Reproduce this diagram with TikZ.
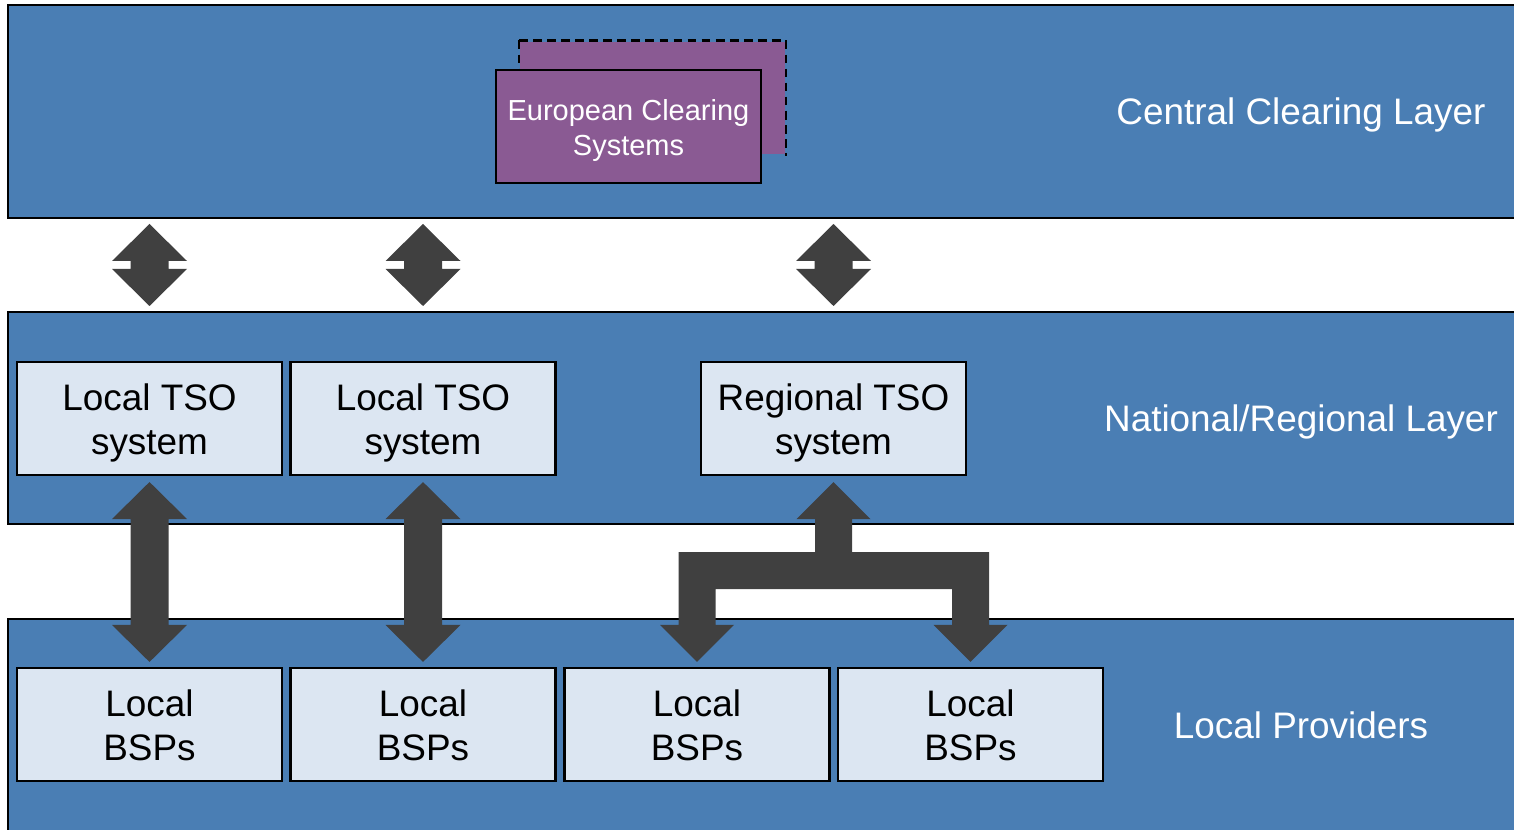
\documentclass[tikz,border=0pt]{standalone}
\usepackage{fontspec}
\setmainfont{Liberation Sans}
\usetikzlibrary{calc}
\definecolor{bandblue}{HTML}{4A7EB4}
\definecolor{boxfill}{HTML}{DCE6F2}
\definecolor{euro}{HTML}{8A5A93}
\definecolor{arrowgray}{HTML}{404040}
\tikzset{
  band/.style={fill=bandblue,draw=black,line width=1.4pt},
  sysbox/.style={fill=boxfill,draw=black,line width=1.2pt,minimum width=5.3cm,minimum height=2.26cm,
    align=center,inner sep=0pt,text height=1.6cm,text depth=0.14cm,font=\fontsize{21}{25.5}\selectfont},
  eurobox/.style={fill=euro,draw=black,line width=1.2pt,minimum width=5.3cm,minimum height=2.26cm,
    align=center,inner sep=0pt,text height=1.3cm,text depth=0.14cm,text=white,font=\fontsize{16.5}{19.8}\selectfont},
  layer/.style={text=white,text height=0.66cm,text depth=0.14cm,font=\fontsize{21}{25.5}\selectfont},
  arrowfill/.style={fill=arrowgray}
}
% fat double arrow from top apex #1 to bottom apex #2
\newcommand{\dblarrow}[2]{%
  \fill[arrowfill] (#1) -- ++(37.5,37) -- ++(-18.5,0) -- ($(#2)+(19,-37)$) -- ++(18.5,0) -- (#2)
    -- ++(-37.5,-37) -- ++(18.5,0) -- ($(#1)+(-19,37)$) -- ++(-18.5,0) -- cycle;}
\begin{document}
\begin{tikzpicture}[x=0.02cm,y=-0.02cm]
\useasboundingbox (0,0) rectangle (1514,830);
\fill[white] (0,0) rectangle (1514,830);

% layers
\draw[band] (8,5) rectangle (1530,218);
\draw[band] (8,312) rectangle (1530,524);
\draw[band] (8,619) rectangle (1530,850);
\coordinate (clearbot) at (0,218);
\coordinate (nattop) at (0,312);

% central clearing
\node[eurobox,draw=none] (euroback) at (652.5,98) {};
\draw[black,line width=1.2pt,dash pattern=on 5pt off 3pt] (euroback.north west) -- (euroback.north east) -- (euroback.south east);
\draw[black,line width=1.2pt,dash pattern=on 5pt off 3pt] (euroback.north west) -- ++(0,30);
\node[eurobox] (euro) at (628.5,126.5) {European Clearing\\Systems};

% national / regional
\node[sysbox] (tso1) at (149.5,418.5) {Local TSO\\system};
\node[sysbox] (tso2) at (423,418.5) {Local TSO\\system};
\node[sysbox] (reg) at (833.5,418.5) {Regional TSO\\system};

% local providers
\node[sysbox] (bsp1) at (149.5,724.5) {Local\\BSPs};
\node[sysbox] (bsp2) at (423,724.5) {Local\\BSPs};
\node[sysbox] (bsp3) at (697,724.5) {Local\\BSPs};
\node[sysbox] (bsp4) at (970.5,724.5) {Local\\BSPs};

% layer names
\node[layer] (central) at (1301,112) {Central Clearing Layer};
\node[layer] (national) at (1301,419) {National/Regional Layer};
\node[layer] (local) at (1301,726) {Local Providers};

% arrows
\dblarrow{$(tso1 |- clearbot)+(0,6)$}{$(tso1 |- nattop)+(0,-6)$}
\dblarrow{$(tso2 |- clearbot)+(0,6)$}{$(tso2 |- nattop)+(0,-6)$}
\dblarrow{$(reg |- clearbot)+(0,6)$}{$(reg |- nattop)+(0,-6)$}
\dblarrow{$(tso1.south)+(0,6)$}{$(bsp1.north)+(0,-5)$}
\dblarrow{$(tso2.south)+(0,6)$}{$(bsp2.north)+(0,-5)$}

\coordinate (up) at ($(reg.south)+(0,6)$);
\coordinate (dl) at ($(bsp3.north)+(0,-5)$);
\coordinate (dr) at ($(bsp4.north)+(0,-5)$);
\coordinate (bar) at ($(up)+(0,70)$);
\coordinate (barb) at ($(up)+(0,107)$);
\fill[arrowfill] (up) -- ($(up)+(37,37)$) -- ($(up)+(18.5,37)$) -- ($(up)+(18.5,70)$)
  -- ($(dr |- bar)+(18.5,0)$) -- ($(dr)+(18.5,-37)$) -- ($(dr)+(37,-37)$) -- (dr)
  -- ($(dr)+(-37,-37)$) -- ($(dr)+(-18.5,-37)$) -- ($(dr |- barb)+(-18.5,0)$)
  -- ($(dl |- barb)+(18.5,0)$) -- ($(dl)+(18.5,-37)$) -- ($(dl)+(37,-37)$) -- (dl)
  -- ($(dl)+(-37,-37)$) -- ($(dl)+(-18.5,-37)$) -- ($(dl |- bar)+(-18.5,0)$)
  -- ($(up)+(-18.5,70)$) -- ($(up)+(-18.5,37)$) -- ($(up)+(-37,37)$) -- cycle;
\end{tikzpicture}
\end{document}
